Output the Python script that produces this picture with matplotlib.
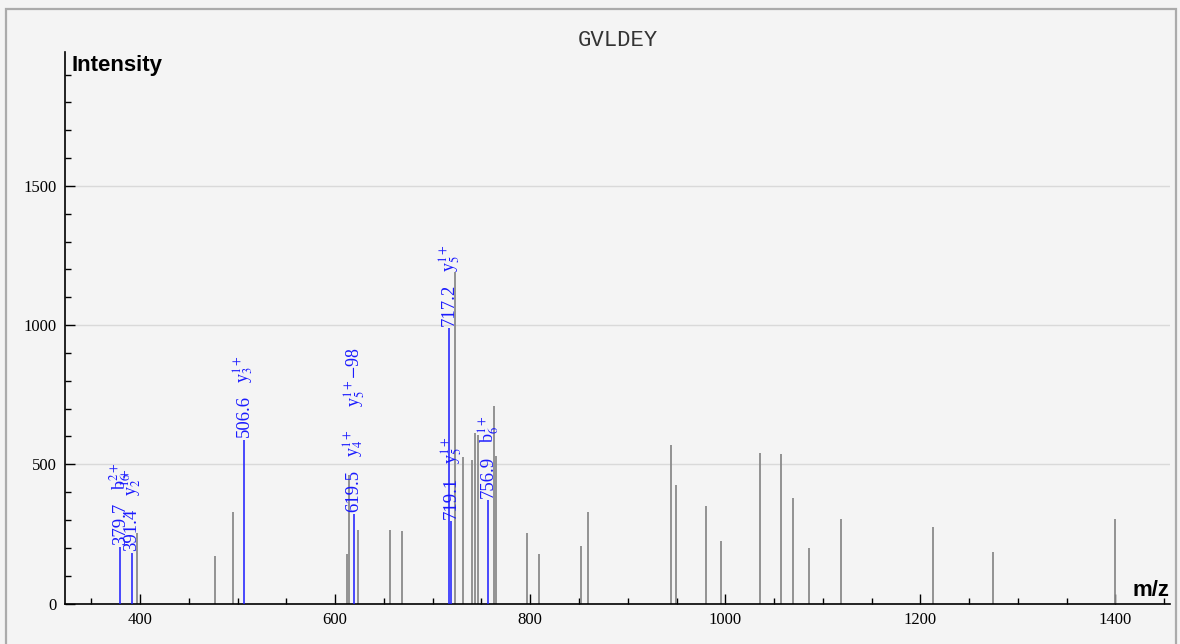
import matplotlib
matplotlib.use('Agg')
import matplotlib.pyplot as plt
from matplotlib.patches import Rectangle
from matplotlib.ticker import MultipleLocator

# unassigned peaks (m/z, intensity)
grey_mz = [397.0, 477.0, 495.7, 612.6, 614.7, 623.0, 656.0, 668.7, 722.4, 731.0,
           740.2, 743.0, 746.7, 762.8, 765.0, 796.6, 808.5, 852.3, 858.8, 944.6,
           949.7, 980.2, 995.6, 1035.9, 1057.4, 1069.0, 1085.8, 1118.6, 1213.3,
           1274.2, 1400.0]
grey_int = [252, 171, 330, 177, 462, 263, 263, 260, 1190, 526,
            514, 613, 604, 709, 529, 254, 178, 207, 330, 568,
            424, 351, 225, 540, 536, 380, 199, 305, 276,
            186, 305]

# assigned peaks
ion_mz = [379.7, 391.4, 506.6, 619.5, 717.2, 719.1, 756.9]
ion_int = [202, 181, 589, 320, 988, 295, 373]
ion_names = [[r'b$_6^{2+}$'], [r'y$_2^{1+}$'], [r'y$_3^{1+}$'],
             [r'y$_4^{1+}$', r'y$_5^{1+}$$-$98'], [r'y$_5^{1+}$'],
             [r'y$_5^{1+}$'], [r'b$_6^{1+}$']]

plt.rcParams['mathtext.fontset'] = 'stix'
serif = 'Liberation Serif'
bg = '#f4f4f4'

fig = plt.figure(figsize=(11.8, 6.44), dpi=100, facecolor=bg)
ax = fig.add_axes([65 / 1180, 40.5 / 644, 1105 / 1180, 551.5 / 644])
ax.set_facecolor(bg)

ax.vlines(grey_mz, 0, grey_int, color='#8a8a8a', lw=1.3, zorder=2)
ax.vlines(ion_mz, 0, ion_int, color='#1a1aff', lw=1.1, zorder=3)

for mz, h, names in zip(ion_mz, ion_int, ion_names):
    ax.annotate(f'{mz:.1f}', (mz, h), xytext=(0, 1.5), textcoords='offset points',
                rotation=90, ha='center', va='bottom', color='#1a1aff',
                fontsize=13.5, family=serif)
    for i, name in enumerate(names):
        ax.annotate(name, (mz, h), xytext=(0, 41 + i * 36), textcoords='offset points',
                    rotation=90, ha='center', va='bottom', color='#1a1aff',
                    fontsize=13, family=serif)

ax.set_xlim(323, 1456)
ax.set_ylim(0, 1981)
ax.xaxis.set_major_locator(MultipleLocator(200))
ax.xaxis.set_minor_locator(MultipleLocator(50))
ax.yaxis.set_major_locator(MultipleLocator(500))
ax.yaxis.set_minor_locator(MultipleLocator(100))
ax.tick_params(which='both', direction='in', color='black', width=1)
ax.tick_params(which='major', length=7, labelsize=12, pad=6)
ax.tick_params(which='minor', length=4)
for lab in ax.get_xticklabels() + ax.get_yticklabels():
    lab.set_family(serif)

ax.grid(axis='y', which='major', color='#d9d9d9', lw=1)
ax.set_axisbelow(True)
for s in ['top', 'right']:
    ax.spines[s].set_visible(False)
for s in ['left', 'bottom']:
    ax.spines[s].set_linewidth(1.2)

ax.text(0.006, 0.975, 'Intensity', transform=ax.transAxes, ha='left', va='center',
        fontsize=16, fontweight='bold', family='Liberation Sans')
ax.text(0.999, 0.005, 'm/z', transform=ax.transAxes, ha='right', va='bottom',
        fontsize=16, fontweight='bold', family='Liberation Sans')
fig.text(618 / 1180, 1 - 40 / 644, 'GVLDEY', ha='center', va='center',
         fontsize=16, family='Liberation Mono', color='#333333')

fig.patches.append(Rectangle((6 / 1180, -0.05), 1170 / 1180, 1.05 - 9 / 644,
                             transform=fig.transFigure, fill=False,
                             edgecolor='#ababab', lw=1.6))

fig.savefig('out.png', dpi=100, facecolor=bg)
